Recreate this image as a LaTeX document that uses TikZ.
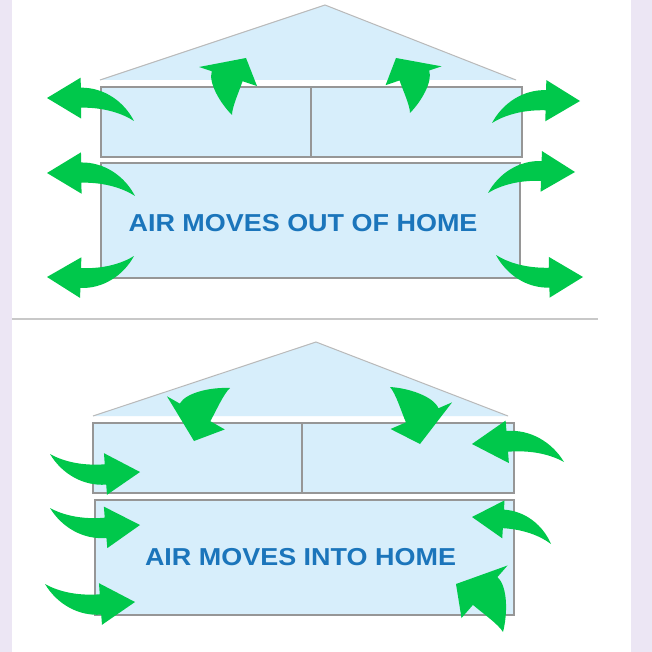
\documentclass[tikz,border=0pt]{standalone}
\usepackage{fontspec}
\setmainfont{Liberation Sans}
\definecolor{arrowgreen}{RGB}{0,200,75}
\definecolor{housefill}{RGB}{215,238,251}
\definecolor{houseline}{RGB}{150,150,150}
\definecolor{roofline}{RGB}{185,185,185}
\definecolor{textblue}{RGB}{27,117,187}
\definecolor{lavender}{RGB}{236,230,244}
\definecolor{sepline}{RGB}{200,200,200}
\tikzset{
  wall/.style={fill=housefill, draw=houseline, line width=1.3pt},
  roof/.style={fill=housefill},
  roofedge/.style={draw=roofline, line width=1pt},
  label/.style={font=\bfseries\fontsize{24.5}{26}\selectfont, text=textblue, xscale=1.1, inner sep=0pt},
}
% frame: tail (x,y), tip (x,y), side (+1/-1); shape drawn with tail=(0,0), tip=(1,0)
\newcommand\arrowframe[5]{%
  \pgfmathsetmacro\gux{#3-#1}%
  \pgfmathsetmacro\guy{#2-#4}%
  \pgfmathsetmacro\gvx{-(#5)*\guy}%
  \pgfmathsetmacro\gvy{(#5)*\gux}}
% gently curved arrow
\newcommand\garrow[5]{%
  \arrowframe{#1}{#2}{#3}{#4}{#5}%
  \begin{scope}[shift={(#1,#2)}, x={(\gux pt,\guy pt)}, y={(\gvx pt,\gvy pt)}]
    \fill[arrowgreen] (0,0) .. controls (0.166,0.184) and (0.421,0.275) .. (0.666,0.207)
      -- (0.696,0.314) -- (1,0) -- (0.575,-0.124) -- (0.607,-0.007)
      .. controls (0.362,0.061) and (0.152,0.050) .. (0,0) -- cycle;
  \end{scope}}
% strongly hooked arrow
\newcommand\harrow[5]{%
  \arrowframe{#1}{#2}{#3}{#4}{#5}%
  \begin{scope}[shift={(#1,#2)}, x={(\gux pt,\guy pt)}, y={(\gvx pt,\gvy pt)}]
    \fill[arrowgreen] (0,0) .. controls (0.150,0.247) and (0.439,0.527) .. (0.642,0.512)
      -- (0.660,0.741) -- (1,0) -- (0.581,-0.296) -- (0.601,-0.037)
      .. controls (0.431,-0.024) and (0.132,0.033) .. (0,0) -- cycle;
  \end{scope}}
\begin{document}
\begin{tikzpicture}[x=1pt, y=-1pt]
\useasboundingbox (0,0) rectangle (652,652);
\fill[white] (0,0) rectangle (652,652);
\fill[lavender] (0,0) rectangle (12,652);
\fill[lavender] (631,0) rectangle (652,652);

% separator
\coordinate (sepL) at (12,319);
\coordinate (sepR) at (598,319);
\draw[sepline, line width=2pt] (sepL) -- (sepR);

% ---- top house ----
\coordinate (tRL) at (100,80);
\coordinate (tRA) at (325,5);
\coordinate (tRR) at (516,80);
\fill[roof] (tRL) -- (tRA) -- (tRR) -- cycle;
\draw[roofedge] (tRL) -- (tRA) -- (tRR);
\draw[wall] (101,87) rectangle (522,157);
\draw[houseline, line width=1.3pt] (311,87) -- (311,157);
\draw[wall] (101,163) rectangle (520,278);
\node[label] (toptext) at (303,223) {AIR MOVES OUT OF HOME};

% ---- bottom house ----
\coordinate (bRL) at (93,416);
\coordinate (bRA) at (316,342);
\coordinate (bRR) at (508,416);
\fill[roof] (bRL) -- (bRA) -- (bRR) -- cycle;
\draw[roofedge] (bRL) -- (bRA) -- (bRR);
\draw[wall] (93,423) rectangle (514,493);
\draw[houseline, line width=1.3pt] (302,423) -- (302,493);
\draw[wall] (95,500) rectangle (514,615);
\node[label] (bottext) at (300.5,557) {AIR MOVES INTO HOME};

% ---- arrows out ----
\garrow{134}{121}{47}{98}{-1}
\garrow{135}{196}{47}{173}{-1}
\garrow{134}{256}{47}{277}{1}
\harrow{232}{115}{246}{58}{1}
\harrow{410}{113}{396}{58}{-1}
\garrow{492}{123}{580}{101}{1}
\garrow{488}{193}{575}{172}{1}
\garrow{496}{255}{583}{277}{-1}

% ---- arrows in ----
\garrow{50}{454}{140}{472}{-1}
\garrow{50}{508}{140}{525}{-1}
\garrow{45}{584}{135}{602}{-1}
\harrow{230}{388}{194}{441}{-1}
\harrow{390}{387}{420}{444}{1}
\garrow{564}{462}{472}{444}{-1}
\garrow{551}{544}{472}{517}{-1}
\harrow{503}{632}{456}{584}{-1}
\end{tikzpicture}
\end{document}
